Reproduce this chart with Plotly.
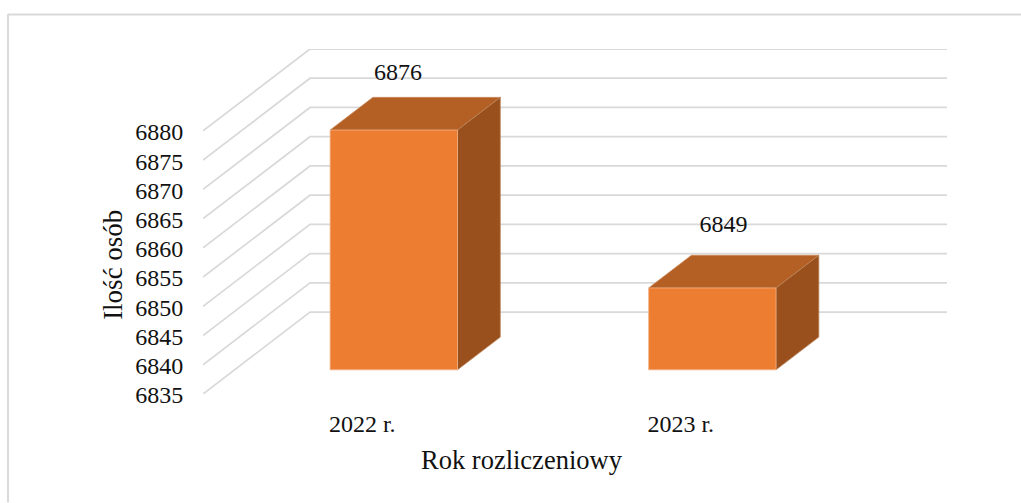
import plotly.graph_objects as go

categories = ["2022 r.", "2023 r."]
values = [6876, 6849]
y_ticks = [6835, 6840, 6845, 6850, 6855, 6860, 6865, 6870, 6875, 6880]
x_title = "Rok rozliczeniowy"
y_title = "Ilość osób"

# Oblique projection, in axis units: a point at depth d (0 = front, 1 = back wall)
DEPTH_X = 0.336
DEPTH_Y = 14.0
BAR_WIDTH = 0.4
BAR_FRONT = 0.295
BAR_BACK = 0.695
Y_MIN = 6835
Y_MAX = 6894
X_MIN = -0.5
X_MAX = 1.5 + DEPTH_X
LABEL_X = [0.112, 0.134]
LABEL_Y = [13.7, 14.7]

FONT = "Liberation Serif"
GRID = "#D9D9D9"
FRONT = "#ED7D31"
TOP = "#B45F24"
SIDE = "#99501D"

W, H = 1021, 503
L, R, T, B = 203, 74, 48.5, 108.5


def proj(x, y, d):
    return x + d * DEPTH_X, y + d * DEPTH_Y


fig = go.Figure()

# Gridlines: left wall then back wall
for v in y_ticks:
    p0 = proj(X_MIN, v, 0)
    p1 = proj(X_MIN, v, 1)
    p2 = proj(X_MAX - DEPTH_X, v, 1)
    fig.add_trace(go.Scatter(
        x=[p0[0], p1[0], p2[0]], y=[p0[1], p1[1], p2[1]], mode="lines",
        line=dict(color=GRID, width=1.75), cliponaxis=False,
        hoverinfo="skip", showlegend=False))


def face(pts, color, edge):
    fig.add_trace(go.Scatter(
        x=[p[0] for p in pts] + [pts[0][0]],
        y=[p[1] for p in pts] + [pts[0][1]],
        mode="lines", fill="toself", fillcolor=color,
        line=dict(color=edge, width=0.75), cliponaxis=False,
        hoverinfo="skip", showlegend=False))


for i, v in enumerate(values):
    xl, xr = i - BAR_WIDTH / 2, i + BAR_WIDTH / 2
    face([proj(xl, v, BAR_FRONT), proj(xr, v, BAR_FRONT),
          proj(xr, v, BAR_BACK), proj(xl, v, BAR_BACK)], TOP, "#C98A5C")
    face([proj(xr, Y_MIN, BAR_FRONT), proj(xr, v, BAR_FRONT),
          proj(xr, v, BAR_BACK), proj(xr, Y_MIN, BAR_BACK)], SIDE, "#B98458")
    face([proj(xl, Y_MIN, BAR_FRONT), proj(xr, Y_MIN, BAR_FRONT),
          proj(xr, v, BAR_FRONT), proj(xl, v, BAR_FRONT)], FRONT, "#F2B48A")

fig.add_trace(go.Scatter(
    x=[i + LABEL_X[i] for i in range(len(values))],
    y=[v + LABEL_Y[i] for i, v in enumerate(values)],
    mode="text", text=[str(v) for v in values], textposition="middle center",
    textfont=dict(family=FONT, size=24, color="#111111"),
    cliponaxis=False, hoverinfo="skip", showlegend=False))

px_x = lambda p: (p - L) / (W - L - R)
px_y = lambda p: 1 - (p - T) / (H - T - B)

fig.update_layout(
    width=W, height=H, autosize=False,
    margin=dict(l=L, r=R, t=T, b=B, pad=0),
    paper_bgcolor="white", plot_bgcolor="rgba(0,0,0,0)",
    font=dict(family=FONT, color="#111111"),
    xaxis=dict(
        range=[X_MIN, X_MAX], tickmode="array",
        tickvals=list(range(len(categories))), ticktext=categories,
        tickfont=dict(family=FONT, size=24, color="#111111"),
        ticks="outside", ticklen=8, tickcolor="rgba(0,0,0,0)",
        showgrid=False, zeroline=False, showline=False,
    ),
    yaxis=dict(
        range=[Y_MIN, Y_MAX], tickmode="array",
        tickvals=y_ticks, ticktext=[str(t) for t in y_ticks],
        tickfont=dict(family=FONT, size=24, color="#111111"),
        ticks="outside", ticklen=14, tickcolor="rgba(0,0,0,0)",
        ticklabelshift=1,
        showgrid=False, zeroline=False, showline=False,
    ),
    annotations=[
        dict(text=x_title, xref="paper", yref="paper", x=px_x(522), y=px_y(461),
             xanchor="center", yanchor="middle", showarrow=False,
             font=dict(family=FONT, size=26.5, color="#111111")),
        dict(text=y_title, xref="paper", yref="paper", x=px_x(113), y=px_y(265),
             xanchor="center", yanchor="middle", showarrow=False, textangle=-90,
             font=dict(family=FONT, size=27, color="#111111")),
    ],
    shapes=[
        dict(type="line", xref="paper", yref="paper", x0=px_x(7.5), x1=px_x(1021),
             y0=px_y(14), y1=px_y(14), line=dict(color=GRID, width=2)),
        dict(type="line", xref="paper", yref="paper", x0=px_x(8), x1=px_x(8),
             y0=px_y(14), y1=px_y(503), line=dict(color=GRID, width=2)),
    ],
)

fig.write_html("out.html", config={"displayModeBar": False},
               post_script="document.body.style.margin='0';")
